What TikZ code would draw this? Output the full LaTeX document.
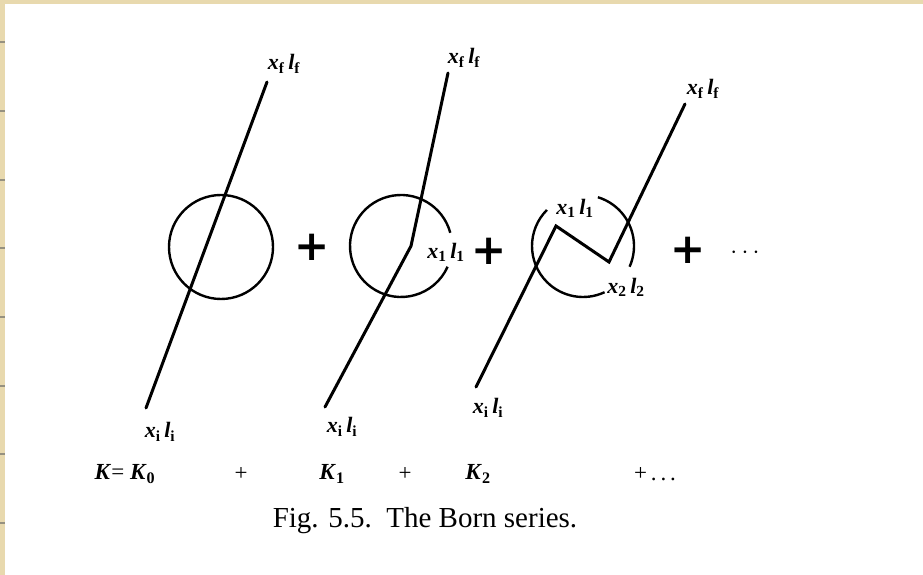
\documentclass[tikz,border=0pt]{standalone}
\usepackage{fontspec}
\setmainfont{Liberation Serif}
\newfontfamily\plusfont{DejaVu Sans}
\usetikzlibrary{positioning}

\newcommand{\xl}[2]{\textbf{\textit{x}\textsubscript{\textup{#1}}\,\textit{l}\textsubscript{\textup{#2}}}}
\newcommand{\kk}[1]{\textbf{\textit{K}\textsubscript{\textup{#1}}}}

\definecolor{paper}{RGB}{232,217,174}
\definecolor{tick}{RGB}{150,145,128}

\begin{document}
\begin{tikzpicture}[x=1pt,y=1pt,
		path line/.style={line width=3pt,line cap=round},
		ring/.style={line width=2.4pt},
		label node/.style={font=\fontsize{22}{24}\selectfont},
		plus node/.style={font=\plusfont\fontsize{42}{42}\selectfont\bfseries},
		sum node/.style={font=\fontsize{23}{26}\selectfont}]

	\useasboundingbox (0,0) rectangle (923,575);
	\fill[paper] (0,571) rectangle (923,575);
	\fill[paper] (0,0) rectangle (5,575);
	\foreach \y in {533,464,395,327,258,189,121,52}
		\fill[tick] (0,\y-1) rectangle (5,\y+1);

	% K0
	\coordinate (c1) at (221,328);
	\coordinate (b1) at (146,167);
	\coordinate (t1) at (267,493);
	\draw[ring] (c1) circle (52);
	\draw[path line] (b1) -- (t1);
	\node[label node] (f1) at (284,511) {\xl{f}{f}};
	\node[label node] (i1) at (160,143) {\xl{i}{i}};

	\node[plus node] (p1) at (312,328) {+};

	% K1
	\coordinate (c2) at (401,329);
	\coordinate (b2) at (325,168);
	\coordinate (k2) at (411,329);
	\coordinate (t2) at (448,502);
	\draw[ring] ([shift={(15:51)}]c2) arc (15:336:51);
	\draw[path line] (b2) -- (k2) -- (t2);
	\node[label node] (f2) at (464,517) {\xl{f}{f}};
	\node[label node] (i2) at (342,148) {\xl{i}{i}};
	\node[label node] (m2) at (446,323) {\xl{1}{1}};

	\node[plus node] (p2) at (489,324) {+};

	% K2
	\coordinate (c3) at (583,329);
	\coordinate (b3) at (476,188);
	\coordinate (k31) at (556,349);
	\coordinate (k32) at (609,313);
	\coordinate (t3) at (685,471);
	\draw[ring] ([shift={(135:51)}]c3) arc (135:295:51);
	\draw[ring] ([shift={(-24:51)}]c3) arc (-24:73:51);
	\draw[path line] (b3) -- (k31) -- (k32) -- (t3);
	\node[label node] (f3) at (703,486) {\xl{f}{f}};
	\node[label node] (i3) at (488,167) {\xl{i}{i}};
	\node[label node] (m31) at (575,367) {\xl{1}{1}};
	\node[label node] (m32) at (626,288) {\xl{2}{2}};

	\node[plus node] (p3) at (688,325) {+};
	\node[font=\fontsize{30}{32}\selectfont] (dots) at (745,322) {$\cdots$};

	% series
	\node[sum node] (s0) at (125,101) {\textbf{\textit{K}}= \kk{0}};
	\node[sum node] (q1) at (241,101) {+};
	\node[sum node] (s1) at (332,101) {\kk{1}};
	\node[sum node] (q2) at (405,101) {+};
	\node[sum node] (s2) at (478,101) {\kk{2}};
	\node[sum node] (q3) at (655,101) {+\,.\,.\,.};

	\node[font=\fontsize{29}{32}\selectfont] (cap) at (425,54) {Fig. 5.5.\ \ The Born series.};

\end{tikzpicture}
\end{document}
